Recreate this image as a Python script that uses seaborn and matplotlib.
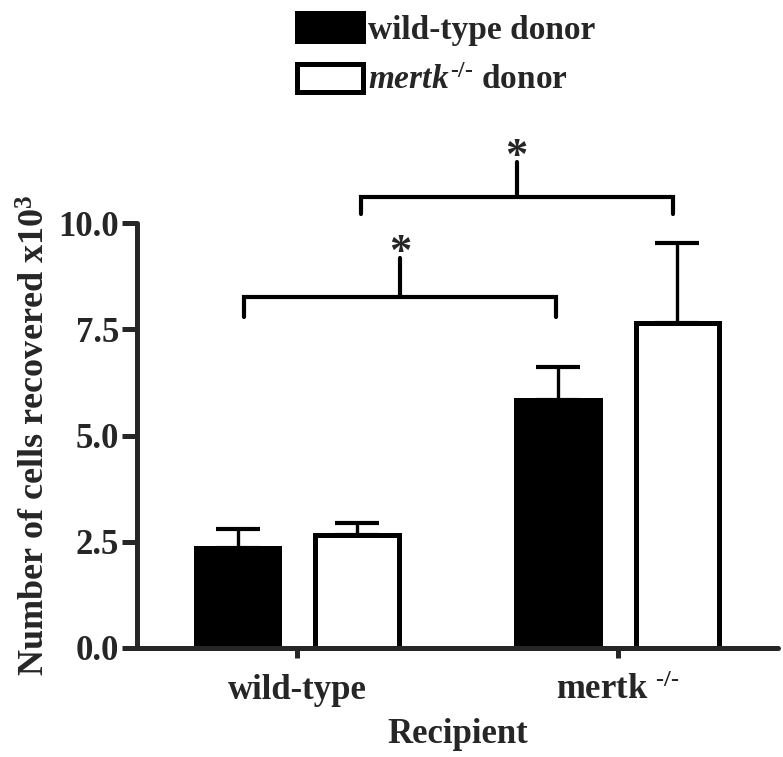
import pandas as pd
import matplotlib
matplotlib.use("Agg")
import matplotlib.pyplot as plt
import seaborn as sns
from matplotlib.patches import Patch

# === Data ===
recipients = ["wild-type", "mertk"]
donors = ["wild-type donor", "mertk donor"]
mean_wt_donor = [2.36, 5.84]
mean_mertk_donor = [2.66, 7.64]
sem_wt_donor = [0.44, 0.78]
sem_mertk_donor = [0.27, 1.89]

df = pd.DataFrame({
    "recipient": recipients * 2,
    "donor": [donors[0]] * 2 + [donors[1]] * 2,
    "cells": mean_wt_donor + mean_mertk_donor,
    "sem": sem_wt_donor + sem_mertk_donor,
})

# === Style ===
sns.set_style("ticks")
plt.rcParams["font.family"] = ["Liberation Serif", "DejaVu Serif"]
plt.rcParams["font.weight"] = "bold"
plt.rcParams["mathtext.fontset"] = "custom"
plt.rcParams["mathtext.rm"] = "Liberation Serif:bold"
plt.rcParams["mathtext.it"] = "Liberation Serif:italic:bold"
plt.rcParams["mathtext.bf"] = "Liberation Serif:bold"

LW = 3.6
HY = "\u2010"  # short hyphen, avoids the long math minus
SUP = HY + "/" + HY

fig = plt.figure(figsize=(7.83, 7.57), dpi=100)
ax = fig.add_axes([0.175, 0.144, 0.8186, 0.5614])

sns.barplot(
    data=df, x="recipient", y="cells", hue="donor",
    order=recipients, hue_order=donors,
    palette=["black", "white"], edgecolor="black", linewidth=LW,
    width=0.745, gap=0.3, errorbar=None, legend=False, ax=ax,
)

# === Upper error bars only ===
centers = {}
for patch, (_, row) in zip(ax.patches, df.iterrows()):
    xc = patch.get_x() + patch.get_width() / 2
    centers[(row["recipient"], row["donor"])] = xc
    ax.errorbar(xc, row["cells"], yerr=[[0], [row["sem"]]], fmt="none",
                ecolor="black", elinewidth=2.4, capsize=15.5, capthick=3,
                zorder=1)

ax.set_xlim(-0.5, 1.5)
ax.set_ylim(0, 10)
ax.set_yticks([0, 2.5, 5.0, 7.5, 10.0])
ax.set_yticklabels(["0.0", "2.5", "5.0", "7.5", "10.0"], fontsize=25, fontweight="bold")
ax.set_xticks([0, 1])
ax.set_xticklabels(["wild-type", "mertk $^{" + SUP + "}$"], fontsize=25, fontweight="bold")
ax.tick_params(axis="y", length=11, width=LW, pad=2)
ax.tick_params(axis="x", length=7, width=LW, pad=12)
for side in ["left", "bottom"]:
    ax.spines[side].set_linewidth(LW)
    ax.spines[side].set_capstyle("round")
sns.despine(ax=ax, top=True, right=True)

ax.set_xlabel("Recipient", fontsize=25, fontweight="bold", labelpad=8)
ax.set_ylabel(r"Number of cells recovered x10$^{3}$", fontsize=26, fontweight="bold", labelpad=4)

# === Significance brackets ===
def bracket(x1, x2, y, drop, stem):
    xm = (x1 + x2) / 2
    ax.plot([x1, x1, x2, x2], [y - drop, y, y, y - drop], color="black", lw=3,
            clip_on=False, solid_capstyle="round", solid_joinstyle="miter")
    ax.plot([xm, xm], [y, y + stem], color="black", lw=3, clip_on=False,
            solid_capstyle="round")
    ax.text(xm, y + stem - 0.35, "*", ha="center", va="bottom", fontsize=32,
            fontweight="bold")

bracket(centers[("wild-type", donors[0])] + 0.02, centers[("mertk", donors[0])] - 0.005,
        8.26, 0.47, 0.92)
bracket(centers[("wild-type", donors[1])] + 0.012, centers[("mertk", donors[1])] - 0.015,
        10.61, 0.40, 0.82)

# === Legend ===
handles = [
    Patch(facecolor="black", edgecolor="black", linewidth=LW, label="wild-type donor"),
    Patch(facecolor="white", edgecolor="black", linewidth=LW,
          label=r"$\it{mertk}^{" + SUP + "}$ donor"),
]
fig.legend(handles=handles, loc="upper left", bbox_to_anchor=(0.362, 1.0),
           frameon=False, fontsize=24, handlelength=2.0, handleheight=0.9,
           handletextpad=0.15, labelspacing=0.55, borderaxespad=0)

plt.savefig("out.png", dpi=100)
plt.close()
